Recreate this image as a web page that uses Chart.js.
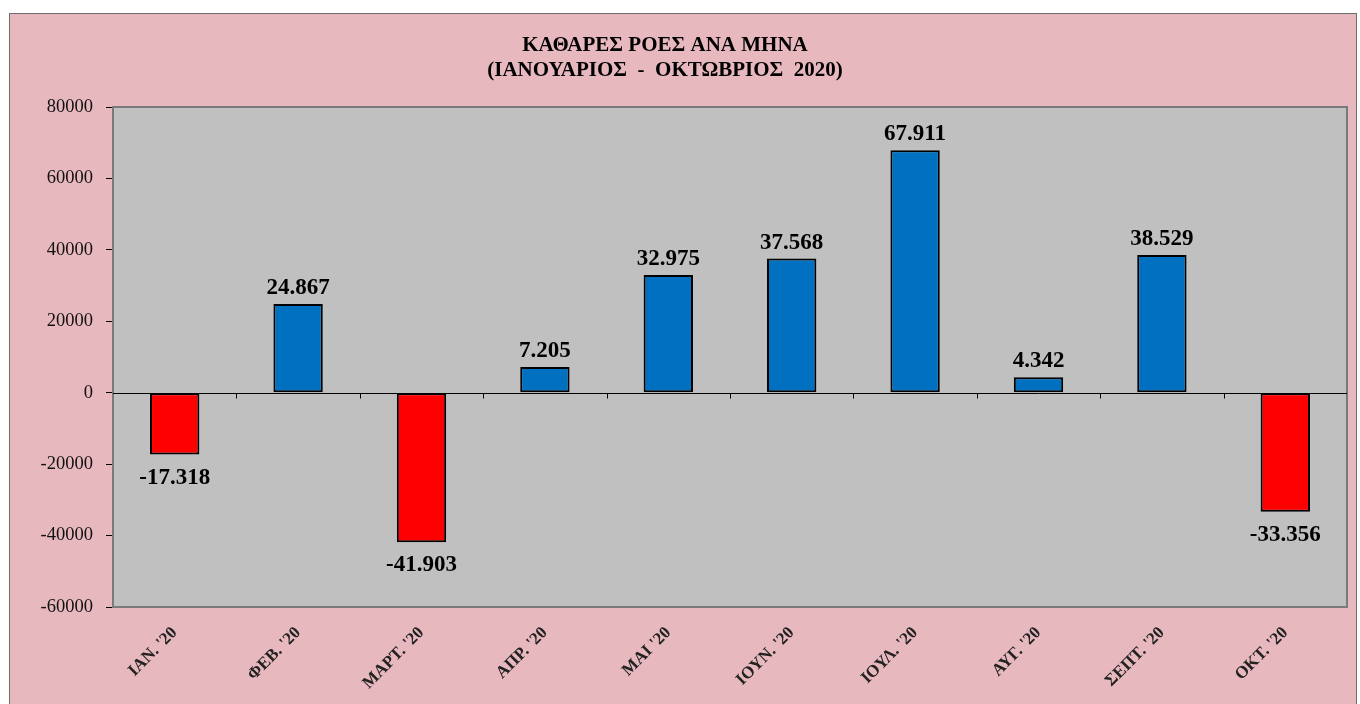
<!DOCTYPE html>
<html>
<head>
<meta charset="utf-8">
<script src="https://cdn.jsdelivr.net/npm/chart.js@4.4.0/dist/chart.umd.min.js"></script>
<style>
    html, body { margin: 0; padding: 0; background: #ffffff; }
    #frame {
        position: absolute;
        left: 9px; top: 13px;
        width: 1346px; height: 700px;
        border: 1px solid #6e6e6e;
        background: #e8b8bf;
    }
    #wrap {
        position: absolute;
        left: 1px; top: 1px;
        width: 1345px; height: 690px;
    }
</style>
</head>
<body>
<div id="frame"><div id="wrap"><canvas id="flowsChart"></canvas></div></div>
<script>
const titleLines = ['ΚΑΘΑΡΕΣ ΡΟΕΣ ΑΝΑ ΜΗΝΑ', '(ΙΑΝΟΥΑΡΙΟΣ  -  ΟΚΤΩΒΡΙΟΣ  2020)'];
const months = ["ΙΑΝ. '20", "ΦΕΒ. '20", "ΜΑΡΤ. '20", "ΑΠΡ. '20", "ΜΑΙ '20",
    "ΙΟΥΝ. '20", "ΙΟΥΛ. '20", "ΑΥΓ. '20", "ΣΕΠΤ. '20", "ΟΚΤ. '20"];
const netFlows = [-17318, 24867, -41903, 7205, 32975, 37568, 67911, 4342, 38529, -33356];
const yTicks = [-60000, -40000, -20000, 0, 20000, 40000, 60000, 80000];

const serif = "'Liberation Serif', 'DejaVu Serif', serif";

function greekNumber(v) {
    const s = String(Math.abs(v)).replace(/\B(?=(\d{3})+(?!\d))/g, '.');
    return (v < 0 ? '-' : '') + s;
}

// plot background, zero line, category ticks, value labels and title
const decorations = {
    id: 'decorations',
    beforeDatasetsDraw(chart) {
        const { ctx, chartArea: a, scales: { y } } = chart;
        ctx.save();
        ctx.fillStyle = '#c0c0c0';
        ctx.fillRect(a.left, a.top, a.right - a.left, a.bottom - a.top);
        ctx.strokeStyle = '#7a7a7a';
        ctx.lineWidth = 2;
        ctx.strokeRect(a.left, a.top, a.right - a.left, a.bottom - a.top);

        const y0 = Math.round(y.getPixelForValue(0)) + 0.5;
        ctx.strokeStyle = '#000';
        ctx.lineWidth = 1;
        ctx.beginPath();
        ctx.moveTo(a.left, y0);
        ctx.lineTo(a.right, y0);
        const step = (a.right - a.left) / months.length;
        for (let i = 1; i < months.length; i++) {
            const px = Math.round(a.left + i * step) + 0.5;
            ctx.moveTo(px, y0);
            ctx.lineTo(px, y0 + 5);
        }
        ctx.stroke();
        ctx.restore();
    },
    afterDatasetsDraw(chart) {
        const { ctx } = chart;
        const meta = chart.getDatasetMeta(0);
        ctx.save();
        ctx.font = 'bold 23px ' + serif;
        ctx.fillStyle = '#000';
        ctx.textAlign = 'center';
        ctx.textBaseline = 'alphabetic';
        meta.data.forEach((bar, i) => {
            const v = netFlows[i];
            const ty = v >= 0 ? bar.y - 10 : bar.y + 29;
            ctx.fillText(greekNumber(v), bar.x, ty);
        });
        ctx.font = 'bold 21px ' + serif;
        ctx.textBaseline = 'middle';
        ctx.fillText(titleLines[0], 654, 31);
        ctx.fillText(titleLines[1], 654, 56);
        ctx.restore();
    }
};

const ctx = document.getElementById('flowsChart').getContext('2d');
new Chart(ctx, {
    type: 'bar',
    data: {
        labels: months,
        datasets: [{
            data: netFlows,
            backgroundColor: netFlows.map(v => v < 0 ? '#ff0000' : '#0070c0'),
            borderColor: '#000000',
            borderWidth: 2,
            borderSkipped: false,
            barPercentage: 0.4,
            categoryPercentage: 1.0
        }]
    },
    options: {
        responsive: true,
        maintainAspectRatio: false,
        animation: false,
        layout: { padding: { top: 92, right: 9, left: 0, bottom: 0 } },
        plugins: {
            legend: { display: false },
            tooltip: { enabled: false }
        },
        scales: {
            x: {
                grid: { display: false },
                border: { display: false },
                ticks: {
                    color: '#222',
                    font: { family: serif, size: 17, weight: 'bold' },
                    minRotation: 45,
                    maxRotation: 45,
                    padding: 8
                },
                afterFit(scale) { scale.height = 98; }
            },
            y: {
                min: -60000,
                max: 80000,
                afterBuildTicks(scale) {
                    scale.ticks = yTicks.map(v => ({ value: v }));
                },
                grid: {
                    drawOnChartArea: false,
                    tickLength: 7,
                    color: '#000'
                },
                border: { display: false },
                ticks: {
                    color: '#111',
                    font: { family: serif, size: 18.5 },
                    padding: 13,
                    callback: v => String(v)
                },
                afterFit(scale) { scale.width = 102; }
            }
        }
    },
    plugins: [decorations]
});
</script>
</body>
</html>
